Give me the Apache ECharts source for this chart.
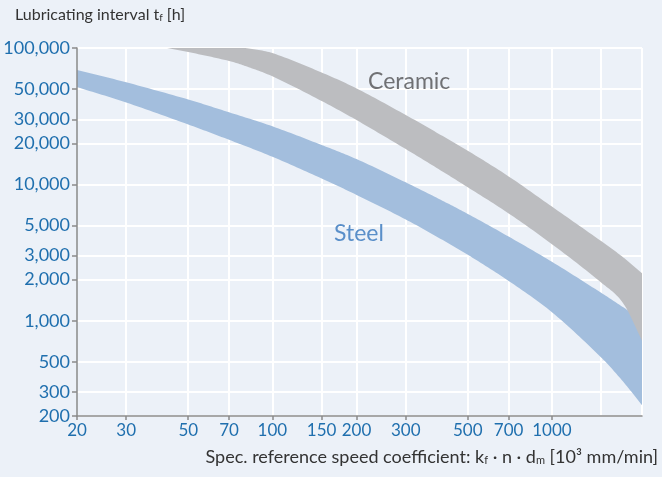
<!DOCTYPE html>
<html><head><meta charset="utf-8">
<script src="https://cdn.jsdelivr.net/npm/echarts@6/dist/echarts.min.js"></script>
<style>html,body{margin:0;padding:0;background:#ecf1f8}#c{width:662px;height:477px}</style>
</head><body><div id="c"></div>
<script>
// Tick / grid values
const xTickLabels = [20, 30, 50, 70, 100, 150, 200, 300, 500, 700, 1000];
const xGridValues = [30, 50, 70, 100, 150, 200, 300, 500, 700, 1000, 1500, 2100];
const yTickLabels = [200, 300, 500, 1000, 2000, 3000, 5000, 10000, 20000, 30000, 50000, 100000];

// Steel band (upper / lower boundary)
const steelX     = [20, 30, 50, 70, 100, 150, 200, 300, 400, 500, 700, 1000, 1500, 1800, 2100];
const steelUpper = [69080, 56030, 41910, 33760, 26650, 19440, 15320, 10340, 7704, 6071, 4139, 2704, 1602, 1254, 1014];
const steelLower = [51670, 39840, 27470, 21210, 15930, 11040, 8365, 5524, 3980, 3044, 1958, 1154, 538, 356, 240];

// Ceramic band (upper / lower boundary)
const ceramicX     = [42, 50, 70, 80, 100, 150, 200, 300, 400, 500, 700, 1000, 1500, 1800, 2100];
const ceramicUpper = [106980, 106100, 102600, 100000, 91750, 66120, 50540, 32260, 23050, 17640, 11440, 6866, 3835, 2913, 2227];
const ceramicLower = [100000, 93470, 80300, 73790, 61960, 40870, 29590, 18130, 12660, 9515, 6124, 3640, 1906, 1339, 714];

const FONT = 'Lato';
const BLUE_TXT = '#1f6fae';
const AXIS_COL = '#8a8a8a';

// Hermite (Catmull-Rom style) smoothing of pixel points, y as a function of x (rendering only)
function smoothPts(pts, n) {
  const L = pts.length, out = [];
  const slope = i => {
    const a = pts[Math.max(i - 1, 0)], b = pts[Math.min(i + 1, L - 1)];
    return (b[1] - a[1]) / (b[0] - a[0]);
  };
  for (let i = 0; i < L - 1; i++) {
    const [x0, y0] = pts[i], [x1, y1] = pts[i + 1], h = x1 - x0;
    const m0 = slope(i), m1 = slope(i + 1);
    for (let k = 0; k < n; k++) {
      const t = k / n, t2 = t * t, t3 = t2 * t;
      const y = (2 * t3 - 3 * t2 + 1) * y0 + (t3 - 2 * t2 + t) * h * m0 + (-2 * t3 + 3 * t2) * y1 + (t3 - t2) * h * m1;
      out.push([x0 + t * h, y]);
    }
  }
  out.push(pts[L - 1]);
  return out;
}

function bandSeries(name, xs, up, lo, color, z) {
  return {
    type: 'custom', name: name, z: z, silent: true,
    coordinateSystem: 'cartesian2d', xAxisIndex: 0, yAxisIndex: 0,
    data: xs.map((x, i) => [x, up[i], lo[i]]),
    encode: { x: 0, y: [1, 2] },
    renderItem: function (params, api) {
      if (params.dataIndex !== 0) return null;
      const top = xs.map((x, i) => api.coord([x, up[i]]));
      const bot = xs.map((x, i) => api.coord([x, lo[i]]));
      const pts = smoothPts(top, 16).concat(smoothPts(bot, 16).reverse());
      const cs = params.coordSys;
      return {
        type: 'group',
        clipPath: { type: 'rect', shape: { x: cs.x, y: cs.y, width: cs.width, height: cs.height } },
        children: [{ type: 'polygon', shape: { points: pts }, style: { fill: color } }]
      };
    }
  };
}

const chart = echarts.init(document.getElementById('c'), null, { renderer: 'canvas' });
chart.setOption({
  backgroundColor: '#ecf1f8',
  animation: false,
  grid: { left: 77, right: 20, top: 48, bottom: 61, containLabel: false },
  xAxis: [{
    type: 'log', logBase: 10, min: 20, max: 2100, position: 'bottom', z: 5,
    axisLine: { show: true, lineStyle: { color: AXIS_COL, width: 1.5 } },
    axisTick: { show: true, length: 4, customValues: xTickLabels, lineStyle: { color: AXIS_COL, width: 1.5 } },
    axisLabel: { customValues: xTickLabels, color: BLUE_TXT, fontSize: 17, fontFamily: FONT, margin: 6,
                 formatter: v => String(Math.round(v)) },
    splitLine: { show: false }
  }, {
    type: 'log', logBase: 10, min: 20, max: 2100, position: 'bottom', z: 0,
    axisLine: { show: false },
    axisTick: { show: false, customValues: xGridValues },
    axisLabel: { show: false },
    splitLine: { show: true, lineStyle: { color: '#ffffff', width: 2 } }
  }],
  yAxis: [{
    type: 'log', logBase: 10, min: 200, max: 100000, position: 'left', z: 5,
    axisLine: { show: true, lineStyle: { color: AXIS_COL, width: 1.5 } },
    axisTick: { show: true, length: 5, customValues: yTickLabels, lineStyle: { color: AXIS_COL, width: 1.5 } },
    axisLabel: { customValues: yTickLabels, color: BLUE_TXT, fontSize: 18, fontFamily: FONT, margin: 7,
                 formatter: v => Math.round(v).toLocaleString('en-US') },
    splitLine: { show: false }
  }, {
    type: 'log', logBase: 10, min: 200, max: 100000, position: 'left', z: 0,
    axisLine: { show: false },
    axisTick: { show: false, customValues: yTickLabels },
    axisLabel: { show: false },
    splitLine: { show: true, lineStyle: { color: '#ffffff', width: 2 } }
  }],
  series: [
    bandSeries('Steel', steelX, steelUpper, steelLower, '#a3bedd', 2),
    bandSeries('Ceramic', ceramicX, ceramicUpper, ceramicLower, '#bcbdc0', 3)
  ],
  graphic: [
    { type: 'text', left: 15, top: 7, z: 10,
      style: { text: '{a|Lubricating interval t}{s|f}{a| [h]}', fill: '#333',
        rich: { a: { fontSize: 16, fontFamily: FONT, fill: '#333', lineHeight: 22, verticalAlign: 'bottom' },
                s: { fontSize: 10, fontFamily: FONT, fill: '#333', lineHeight: 12, verticalAlign: 'bottom' } } } },
    { type: 'text', right: 4, top: 448, z: 10,
      style: { text: '{a|Spec. reference speed coefficient: k}{s|f}{a| · n · d}{s|m}{a| [10³ mm/min]}', fill: '#333',
        rich: { a: { fontSize: 18, fontFamily: FONT, fill: '#333', lineHeight: 24, verticalAlign: 'bottom' },
                s: { fontSize: 11, fontFamily: FONT, fill: '#333', lineHeight: 13, verticalAlign: 'bottom' } } } },
    { type: 'text', left: 368, top: 70, z: 10,
      style: { text: 'Ceramic', fill: '#707174', fontSize: 23, fontFamily: FONT } },
    { type: 'text', left: 334, top: 222, z: 10,
      style: { text: 'Steel', fill: '#5a8fc9', fontSize: 23, fontFamily: FONT } }
  ]
});
</script>
</body></html>
